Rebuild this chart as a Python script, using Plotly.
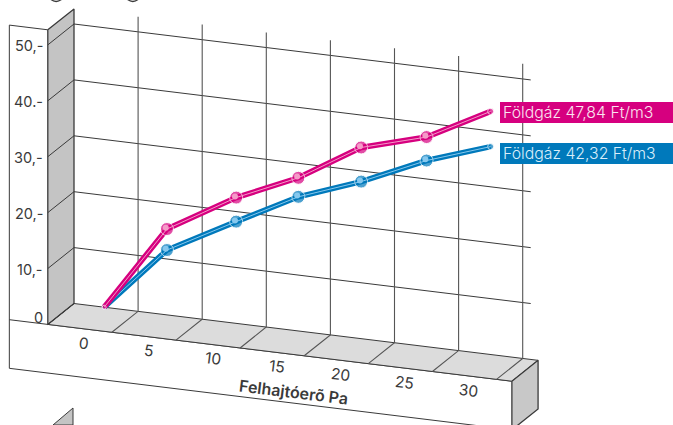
import plotly.graph_objects as go

# ---- data ----
pressure_pa = [-0.15, 4.75, 10.15, 15.0, 19.9, 25.0, 30.0]
gas_4784 = [0.0, 15.36, 22.5, 27.4, 34.2, 37.5, 43.5]
gas_4232 = [0.0, 11.6, 18.2, 24.0, 28.1, 33.3, 37.2]
x_ticks = [0, 5, 10, 15, 20, 25, 30]
y_ticks = [0, 10, 20, 30, 40, 50]
y_tick_labels = ["0", "10,-", "20,-", "30,-", "40.-", "50,-"]
x_title = "Felhajtóerõ Pa"
name_4784 = "Földgáz 47,84 Ft/m3"
name_4232 = "Földgáz 42,32 Ft/m3"

W, H = 673, 425
FONT = "Inter"
INK = "#3a3a3a"
PINK, PINK_L = "#d6007f", "#f59ac8"
BLUE, BLUE_L = "#0079bb", "#86c8ee"


def proj(k, v=0.0, d=0.0):
    """oblique projection: k bands along x, value v, depth d (0 back .. 1 front)"""
    return (74 + 64.1 * k - 26.2 * d, 303.5 + 7.85 * k + 20.9 * d - 5.59 * v)


def k_of(pa):
    return 0.5 + pa / 5


fig = go.Figure()


def poly(points, fill=None, line=INK, width=1.0):
    xs = [p[0] for p in points]
    ys = [p[1] for p in points]
    fig.add_trace(go.Scatter(
        x=xs, y=ys, mode="lines", hoverinfo="skip", showlegend=False,
        fill="toself" if fill else None, fillcolor=fill,
        line=dict(color=line if line else "rgba(0,0,0,0)", width=width),
    ))


TOP = 52.7
KMAX = 7.24
BASE = -8.7

# front panel, floor, side block
poly([proj(-0.6, TOP, 1), proj(-0.6, BASE, 1), proj(KMAX, BASE, 1)])
poly([proj(0, TOP, 1), proj(-0.6, TOP, 1)])
poly([proj(-0.6, 0, 1), proj(KMAX, 0, 1)])
poly([proj(0, 0, 0), proj(KMAX, 0, 0), proj(KMAX, 0, 1), proj(0, 0, 1), proj(0, 0, 0)], fill="#dcdcdc")
poly([proj(KMAX, 0, 1), proj(KMAX, 0, 0), proj(KMAX, BASE, 0), proj(KMAX, BASE, 1), proj(KMAX, 0, 1)], fill="#c8c8c8", width=1.3)

# side wall
poly([proj(0, TOP, 1), proj(0, TOP, 0), proj(0, 0, 0), proj(0, 0, 1), proj(0, TOP, 1)], fill="#c4c4c4", width=1.3)

# grid
for v in y_ticks:
    poly([proj(0, v, 1), proj(0, v, 0)])
    if v:
        poly([proj(0, v, 0), proj(7.125, v, 0)])
for k in range(1, 8):
    poly([proj(k, 0, 1), proj(k, 0, 0), proj(k, TOP, 0)], line="#555555", width=1.1)

# next chart's wall, cut by the bottom of the picture
fig.add_trace(go.Scatter(x=[73, 73, 53, 73], y=[408, 425, 425, 408], mode="lines", fill="toself",
                         fillcolor="#c4c4c4", line=dict(color=INK, width=1),
                         hoverinfo="skip", showlegend=False))


def series(name, values, dark, light):
    pts = [proj(k_of(p), v) for p, v in zip(pressure_pa, values)]
    xs = [p[0] for p in pts]
    ys = [p[1] for p in pts]
    sizes = [4] + [13] * (len(xs) - 2) + [6]
    fig.add_trace(go.Scatter(x=xs, y=ys, mode="lines+markers", name=name, showlegend=False,
                             line=dict(color=dark, width=5.5), marker=dict(color=dark, size=sizes)))
    fig.add_trace(go.Scatter(x=xs, y=ys, mode="lines", showlegend=False, hoverinfo="skip",
                             line=dict(color=light, width=1)))
    fig.add_trace(go.Scatter(x=[a - 1.2 for a in xs[1:-1]], y=[b - 1.2 for b in ys[1:-1]], mode="markers",
                             showlegend=False, hoverinfo="skip", marker=dict(color=light, size=6)))


series(name_4232, gas_4232, BLUE, BLUE_L)
series(name_4784, gas_4784, PINK, PINK_L)

annotations = []
for t, lab in zip(y_ticks, y_tick_labels):
    _, yy = proj(0, t, 1)
    annotations.append(dict(x=44.5, y=yy - 6.5 if t == 0 else yy + 0.7, text=lab, showarrow=False, xanchor="right",
                            yanchor="middle", font=dict(family=FONT, size=14.5, color=INK, weight=400)))
for t in x_ticks:
    xx, yy = proj(0.57 + t / 5, -2.55, 1)
    annotations.append(dict(x=xx, y=yy, text=str(t), showarrow=False, textangle=7,
                            font=dict(family=FONT, size=15.5, color=INK, weight=400)))
annotations.append(dict(x=293.5, y=391.5, text=x_title, showarrow=False, textangle=7,
                        font=dict(family=FONT, size=16, color=INK, weight=600)))

# legend boxes, plus remnants of a heading cut off by the top of the picture
shapes = [
    dict(type="rect", xref="x", yref="y", x0=500, x1=673, y0=102, y1=123, fillcolor=PINK, line_width=0, layer="above"),
    dict(type="rect", xref="x", yref="y", x0=500, x1=673, y0=143, y1=164, fillcolor=BLUE, line_width=0, layer="above"),
    dict(type="path", xref="x", yref="y", path="M 51 -0.5 Q 56 3.5 61.5 -0.5", line=dict(color=INK, width=1.3)),
    dict(type="path", xref="x", yref="y", path="M 127.5 -0.5 Q 133 3.5 138 -0.5", line=dict(color=INK, width=1.3)),
]
annotations.append(dict(x=500.5, y=112.5, text=name_4784, showarrow=False, xanchor="left",
                        font=dict(family=FONT, size=15.8, color="#fbe3f0", weight=300)))
annotations.append(dict(x=500.5, y=153.5, text=name_4232, showarrow=False, xanchor="left",
                        font=dict(family=FONT, size=15.8, color="#d9eefa", weight=300)))

fig.update_layout(
    width=W, height=H, autosize=False,
    margin=dict(l=0, r=0, t=0, b=0), paper_bgcolor="white", plot_bgcolor="white",
    xaxis=dict(range=[0, W], visible=False, fixedrange=True),
    yaxis=dict(range=[H, 0], visible=False, fixedrange=True),
    annotations=annotations, shapes=shapes, showlegend=False,
)
fig.write_html("out.html", config={"displayModeBar": False},
               post_script="document.body.style.margin='0';document.body.style.overflow='hidden';")
